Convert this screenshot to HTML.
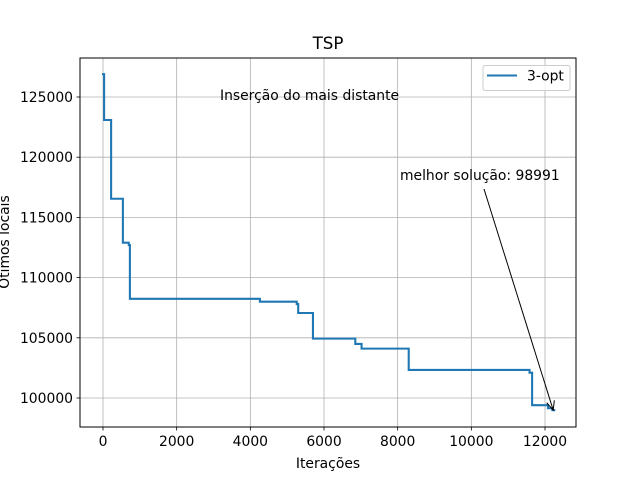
<!DOCTYPE html>
<html><head><meta charset="utf-8"><style>
html,body{margin:0;padding:0;background:#fff;}
svg{display:block;font-family:"DejaVu Sans","Liberation Sans",sans-serif;}
</style></head><body>
<svg id="chart" width="640" height="480" viewBox="0 0 640 480">
  <rect width="640" height="480" fill="#fff"/>
  <g id="grid"></g>
  <g id="ticks"></g>
  <path id="series" fill="none" stroke="#1f77b4" stroke-width="2.08" stroke-linejoin="miter" stroke-linecap="square"/>
  <rect x="80" y="58" width="496" height="369" fill="none" stroke="#000" stroke-width="1"/>
  <text x="328" y="49" font-size="16.7" text-anchor="middle">TSP</text>
  <text x="328" y="468" font-size="13.9" text-anchor="middle">Iterações</text>
  <text x="0" y="0" font-size="13.9" text-anchor="middle" transform="translate(9,242) rotate(-90)">Ótimos locais</text>
  <text x="220" y="100" font-size="13.9">Inserção do mais distante</text>
  <text x="400" y="180" font-size="13.9">melhor solução: 98991</text>
  <g>
    <line id="arrowLine" x1="484" y1="189" x2="552" y2="408" stroke="#000" stroke-width="1"/>
    <path id="arrowHead" fill="none" stroke="#000" stroke-width="1"/>
  </g>
  <g>
    <rect x="483" y="65.5" width="87" height="25" rx="2" fill="#fff" fill-opacity="0.8" stroke="#ccc" stroke-width="1"/>
    <line x1="487" y1="75.5" x2="517" y2="75.5" stroke="#1f77b4" stroke-width="2.08"/>
    <text x="527" y="80.5" font-size="13.9">3-opt</text>
  </g>
</svg>
<script>
const iterations = [0, 30, 220, 540, 700, 730, 4260, 5260, 5300, 5700, 6850, 7020, 8300, 11580, 11650, 12080, 12200, 12250];
const bestValues = [126900, 123090, 116550, 112900, 112700, 108240, 108000, 107800, 107060, 104930, 104490, 104100, 102330, 102100, 99400, 99150, 99000, 98991];
const xTicks = [0, 2000, 4000, 6000, 8000, 10000, 12000];
const yTicks = [100000, 105000, 110000, 115000, 120000, 125000];

const X0 = 103, XS = 442 / 12000;
const Y0 = 97, YS = 301 / 25000;
function xs(v){ return X0 + v * XS; }
function ys(v){ return Y0 + (125000 - v) * YS; }

const NS = "http://www.w3.org/2000/svg";
const grid = document.getElementById('grid');
const ticks = document.getElementById('ticks');
function mk(tag, attrs, parent){
  const e = document.createElementNS(NS, tag);
  for (const k in attrs) e.setAttribute(k, attrs[k]);
  parent.appendChild(e);
  return e;
}
xTicks.forEach(t => {
  const x = xs(t);
  const g = mk('line', {x1:x, y1:58, x2:x, y2:427, stroke:'#b0b0b0', 'stroke-width':0.8}, grid);
  
  
  mk('line', {x1:x, y1:427, x2:x, y2:430.5, stroke:'#000', 'stroke-width':0.8}, ticks);
  const tx = mk('text', {x:x, y:446, 'font-size':13.9, 'text-anchor':'middle'}, ticks);
  tx.textContent = t;
  
  
});
yTicks.forEach(t => {
  const y = ys(t);
  const g = mk('line', {x1:80, y1:y, x2:576, y2:y, stroke:'#b0b0b0', 'stroke-width':0.8}, grid);
  
  
  mk('line', {x1:76.5, y1:y, x2:80, y2:y, stroke:'#000', 'stroke-width':0.8}, ticks);
  const tx = mk('text', {x:73, y:y + 5, 'font-size':13.9, 'text-anchor':'end'}, ticks);
  tx.textContent = t;
  
  
});
let d = '';
for (let i = 0; i < iterations.length; i++) {
  const x = xs(iterations[i]), y = ys(bestValues[i]);
  if (i === 0) d += 'M' + x + ' ' + y;
  else d += 'L' + x + ' ' + ys(bestValues[i-1]) + 'L' + x + ' ' + y;
}
document.getElementById('series').setAttribute('d', d);

const last = iterations.length - 1;
const ax = xs(iterations[last]) - 1, ay = ys(bestValues[last]);
const al = document.getElementById('arrowLine');
al.setAttribute('x2', ax); al.setAttribute('y2', ay);
const dx = ax - 484, dy = ay - 189, L = Math.hypot(dx, dy), ux = dx / L, uy = dy / L;
const hl = 9, hw = 4;
const bx = ax - ux * hl, by = ay - uy * hl;
document.getElementById('arrowHead').setAttribute('d',
  'M' + (bx - uy * hw) + ' ' + (by + ux * hw) + 'L' + ax + ' ' + ay + 'L' + (bx + uy * hw) + ' ' + (by - ux * hw));
</script>
</body></html>
